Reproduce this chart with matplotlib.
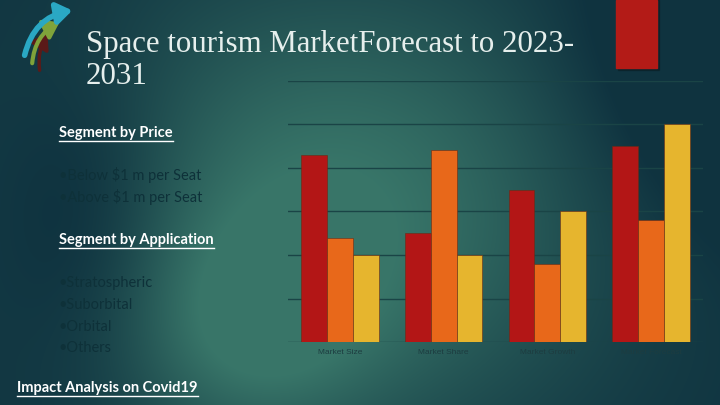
import numpy as np
import matplotlib
matplotlib.use('Agg')
import matplotlib.pyplot as plt
from matplotlib.patches import Rectangle, FancyArrowPatch

# Chart data (default deck values)
categories = ['Market Size', 'Market Share', 'Market Growth', 'Market Forecast']
series_1 = [4.3, 2.5, 3.5, 4.5]
series_2 = [2.4, 4.4, 1.8, 2.8]
series_3 = [2.0, 2.0, 3.0, 5.0]
y_ticks = [0, 1, 2, 3, 4, 5, 6]

title_lines = ['Space tourism MarketForecast to 2023-', '2031']
price_segments = ['Below $1 m per Seat', 'Above $1 m per Seat']
application_segments = ['Stratospheric', 'Suborbital', 'Orbital', 'Others']

W, H = 720, 405
fig = plt.figure(figsize=(7.2, 4.05), dpi=100)

# Background gradient drawn in pixel coordinates
bg = fig.add_axes([0, 0, 1, 1])
bg.set_xlim(0, W)
bg.set_ylim(H, 0)
bg.axis('off')
xx, yy = np.meshgrid(np.arange(W), np.arange(H))
dark = np.array([0.06, 0.20, 0.25])
light = np.array([0.22, 0.46, 0.41])
w = np.exp(-((xx - 340) / 260.0) ** 2 - ((yy - 210) / 230.0) ** 2)
w += 0.55 * np.exp(-((xx - 250) / 120.0) ** 2 - ((yy - 330) / 110.0) ** 2)
w -= 0.35 * np.exp(-((xx - 90) / 90.0) ** 2 - ((yy - 220) / 150.0) ** 2)
w -= 0.45 * np.exp(-((xx - 720) / 150.0) ** 2 - ((yy - 60) / 160.0) ** 2)
w = np.clip(w, 0, 1)
img = dark[None, None, :] * (1 - w[..., None]) + light[None, None, :] * w[..., None]
bg.imshow(img, extent=[0, W, H, 0], aspect='auto', zorder=0)

# Red block at top right
bg.add_patch(Rectangle((617.5, 0), 41, 69.5, color='#0a1c22', alpha=0.5, zorder=1))
bg.add_patch(Rectangle((616, 0), 41, 68, color='#b31b17', zorder=2))

# Logo swooshes
for (x0, y0, x1, y1, col, rad, lw) in [(40, 73, 49, 31, '#5a1a18', -0.2, 2.5),
                                        (32, 66, 62, 21, '#7fa33a', -0.3, 3.0),
                                        (24, 58, 75, 10, '#2aa8c4', -0.35, 4.0)]:
    bg.add_patch(FancyArrowPatch((x0, y0), (x1, y1), connectionstyle=f'arc3,rad={rad}',
                                 arrowstyle='-|>,head_length=5,head_width=3.5',
                                 color=col, lw=lw, mutation_scale=1.8, zorder=3))

# Title
for i, line in enumerate(title_lines):
    bg.text(86, 51.7 + i * 32.3, line, fontsize=22.2, family='Liberation Serif',
            color='#e6efed', va='baseline', ha='left', zorder=4)

# Left text panel
head_color = '#ffffff'
item_color = '#0e3139'
headers = []
headers.append(bg.text(59, 133, 'Segment by Price', fontsize=10.5, family='Lato',
                       weight='bold', color=head_color, va='center', zorder=4))
for i, s in enumerate(price_segments):
    bg.text(59, 175 + i * 21.7, '\u2022' + s, fontsize=10.5, family='Lato',
            color=item_color, va='center', zorder=4)
headers.append(bg.text(59, 240, 'Segment by Application', fontsize=10.5, family='Lato',
                       weight='bold', color=head_color, va='center', zorder=4))
for i, s in enumerate(application_segments):
    bg.text(59, 283.5 + i * 21.6, '\u2022' + s, fontsize=10.5, family='Lato',
            color=item_color, va='center', zorder=4)
headers.append(bg.text(17, 388, 'Impact Analysis on Covid19', fontsize=10.5, family='Lato',
                       weight='bold', color=head_color, va='center', zorder=4))

# Bar chart
left, right, bottom, top = 288, 703, 342.3, 80.5
ax = fig.add_axes([left / W, (H - bottom) / H, (right - left) / W, (bottom - top) / H])
ax.set_facecolor('none')
x = np.arange(len(categories)) + 0.5
bw = 0.249
colors = ['#b31616', '#e8681a', '#e6b52e']
for k, (vals, c) in enumerate(zip([series_1, series_2, series_3], colors)):
    ax.bar(x + (k - 1) * bw, vals, width=bw, color=c, edgecolor='#6b2a14',
           linewidth=0.4, zorder=3)
ax.set_xlim(0, len(categories))
ax.set_ylim(0, 6)
ax.set_yticks(y_ticks)
ax.grid(axis='y', color='#1a4446', linewidth=1.0, zorder=0)
ax.tick_params(axis='y', left=False, labelleft=False)
ax.tick_params(axis='x', length=0, pad=5)
ax.set_xticks(x)
ax.set_xticklabels(categories, fontsize=6, color='#1d3c40', family='Liberation Sans')
for s in ax.spines.values():
    s.set_visible(False)

# Underlines for the headers
fig.canvas.draw()
inv = bg.transData.inverted()
for t in headers:
    bb = t.get_window_extent()
    (x0, y0), (x1, y1) = inv.transform([[bb.x0, bb.y0], [bb.x1, bb.y1]])
    bg.plot([x0, x1], [y0 + 1.0, y0 + 1.0], color=head_color, lw=1.0, zorder=4)

fig.savefig('out.png', dpi=100)
